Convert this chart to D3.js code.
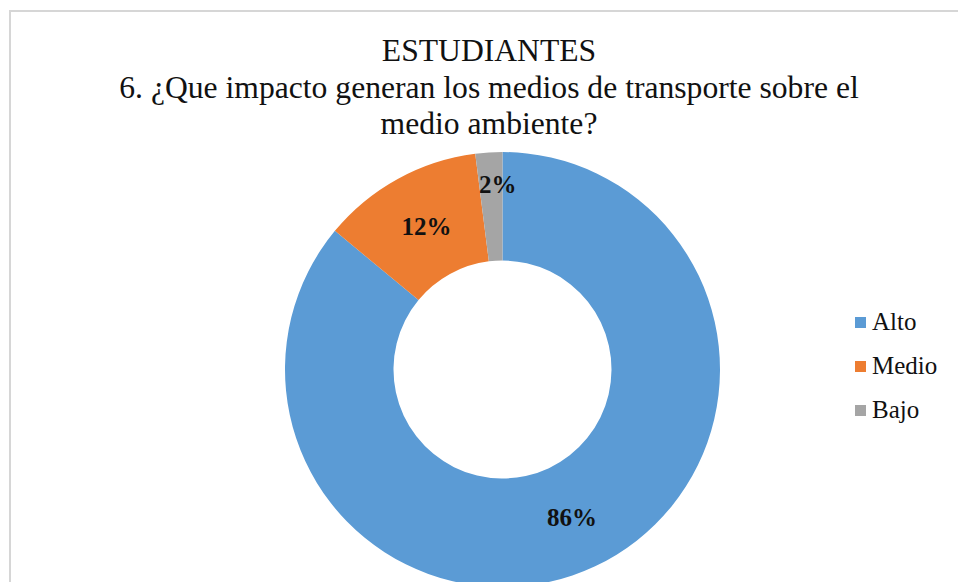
<!DOCTYPE html>
<html>
<head>
<meta charset="utf-8">
<script src="https://cdn.jsdelivr.net/npm/d3@7"></script>
<style>
  html, body { margin: 0; padding: 0; background: #ffffff; }
  svg { display: block; }
  svg text { font-family: "Liberation Serif", "DejaVu Serif", serif; }
</style>
</head>
<body>
<svg id="chart" width="958" height="582"></svg>
<script>
const categories = ["Alto", "Medio", "Bajo"];
const values = [86, 12, 2];
const labels = ["86%", "12%", "2%"];
const colors = ["#5B9BD5", "#ED7D31", "#A5A5A5"];
const titleLines = ["ESTUDIANTES", "6. ¿Que impacto generan los medios de transporte sobre el", "medio ambiente?"];

const svg = d3.select("#chart");
const W = 958, H = 582;

svg.append("rect").attr("x", 0).attr("y", 0).attr("width", W).attr("height", H).attr("fill", "#ffffff");
// chart frame
svg.append("path")
  .attr("d", "M10," + (H + 5) + " L10,11 L" + (W + 5) + ",11")
  .attr("fill", "none").attr("stroke", "#d6d6d6").attr("stroke-width", 2);

// title
const title = svg.append("g");
const titleTexts = titleLines.map((t, i) => title.append("text")
    .attr("x", 489).attr("y", 61 + i * 36.5)
    .attr("text-anchor", "middle")
    .attr("font-size", 31)
    .attr("fill", "#111")
    .text(t));
const w2 = titleTexts[1].node().getComputedTextLength();
if (Math.abs(w2 - 740) > 6) {
  titleTexts.forEach(t => t.attr("font-size", 31 * 740 / w2));
}

// donut
const cx = 502.5, cy = 369.5, rOuter = 217.5, rInner = 109;
const pie = d3.pie().sort(null).value(d => d.v);
const data = categories.map((c, i) => ({ c, v: values[i], label: labels[i], color: colors[i] }));
const arcs = pie(data);
const arc = d3.arc().innerRadius(rInner).outerRadius(rOuter);
const g = svg.append("g").attr("transform", `translate(${cx},${cy})`);
g.selectAll("path").data(arcs).enter().append("path")
  .attr("d", arc)
  .attr("fill", d => d.data.color);

const labelRadius = [163, 164, 186];
const labelShift = [0, 3, 7];
g.selectAll("text.lbl").data(arcs).enter().append("text")
  .attr("class", "lbl")
  .attr("transform", (d, i) => {
    const a = (d.startAngle + d.endAngle) / 2;
    const r = labelRadius[i];
    return `translate(${r * Math.sin(a) + labelShift[i]},${-r * Math.cos(a)})`;
  })
  .attr("text-anchor", "middle")
  .attr("dy", "0.35em")
  .attr("font-weight", "bold")
  .attr("font-size", 25)
  .attr("fill", "#111")
  .text(d => d.data.label);

// legend
const legend = svg.append("g");
data.forEach((d, i) => {
  const y = 330 + i * 44;
  legend.append("rect")
    .attr("x", 855).attr("y", y - 13).attr("width", 11).attr("height", 11)
    .attr("fill", d.color);
  legend.append("text")
    .attr("x", 872).attr("y", y)
    .attr("font-size", 25)
    .attr("fill", "#111")
    .text(d.c);
});
</script>
</body>
</html>
